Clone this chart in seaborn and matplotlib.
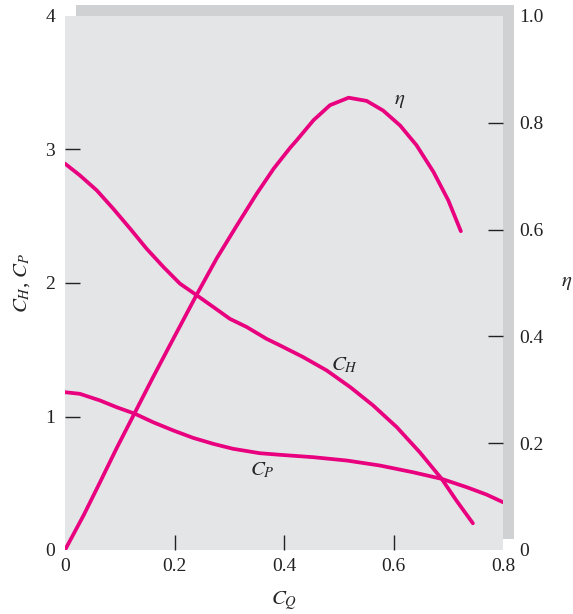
import numpy as np
import pandas as pd
import matplotlib
matplotlib.use("Agg")
import matplotlib.pyplot as plt
import seaborn as sns
from matplotlib.patches import Rectangle
from matplotlib.ticker import FixedLocator

# ------------------------------------------------------------
# Daten
# ------------------------------------------------------------
cq_h = [0.0, 0.027, 0.058, 0.088, 0.119, 0.149, 0.180, 0.210, 0.241, 0.271, 0.301,
        0.332, 0.368, 0.393, 0.435, 0.478, 0.521, 0.563, 0.606, 0.648, 0.688, 0.715, 0.745]
ch = [2.894, 2.807, 2.694, 2.557, 2.407, 2.257, 2.119, 1.995, 1.907, 1.82, 1.732,
      1.67, 1.582, 1.532, 1.445, 1.345, 1.22, 1.082, 0.92, 0.732, 0.533, 0.37, 0.20]

cq_p = [0.0, 0.027, 0.064, 0.094, 0.128, 0.161, 0.198, 0.234, 0.271, 0.307, 0.356,
        0.393, 0.454, 0.515, 0.575, 0.636, 0.688, 0.734, 0.770, 0.800]
cp = [1.182, 1.17, 1.12, 1.07, 1.02, 0.957, 0.895, 0.84, 0.795, 0.758, 0.725,
      0.713, 0.695, 0.67, 0.633, 0.582, 0.533, 0.47, 0.415, 0.358]

cq_eta = [0.0, 0.034, 0.064, 0.094, 0.128, 0.161, 0.198, 0.241, 0.277, 0.314, 0.350,
          0.381, 0.411, 0.423, 0.454, 0.484, 0.518, 0.551, 0.581, 0.612, 0.642, 0.673,
          0.700, 0.723]
eta = [0.0, 0.065, 0.127, 0.19, 0.258, 0.324, 0.396, 0.479, 0.546, 0.608, 0.667,
       0.714, 0.753, 0.767, 0.805, 0.833, 0.847, 0.841, 0.823, 0.795, 0.758, 0.708,
       0.655, 0.597]

x_ticks = [0, 0.2, 0.4, 0.6, 0.8]
x_labels = ["0", "0.2", "0.4", "0.6", "0.8"]
left_ticks = [0, 1, 2, 3, 4]
right_ticks = [0, 0.2, 0.4, 0.6, 0.8, 1.0]
right_labels = ["0", "0.2", "0.4", "0.6", "0.8", "1.0"]

magenta = "#e8007f"
bg = "#e4e5e7"
shadow = "#d0d1d3"
ink = "#222222"

sns.set_style("white", {"axes.facecolor": bg})
plt.rcParams["font.family"] = ["Liberation Serif", "DejaVu Serif"]
plt.rcParams["mathtext.fontset"] = "stix"

W, H = 573, 614
fig = plt.figure(figsize=(W / 100, H / 100), dpi=100)

# Schatten hinter der Achsenfläche (oben rechts versetzt)
fig.patches.append(Rectangle((76 / W, 1 - 539 / H), (514 - 76) / W, (539 - 5) / H,
                             transform=fig.transFigure, facecolor=shadow,
                             edgecolor="none", zorder=-1))

ax = fig.add_axes([65 / W, 1 - 550 / H, (503 - 65) / W, (550 - 16) / H])
ax2 = ax.twinx()

line_kw = dict(color=magenta, lw=2.7, sort=False, solid_joinstyle="round")
sns.lineplot(x=cq_h, y=ch, ax=ax, **line_kw)
sns.lineplot(x=cq_p, y=cp, ax=ax, **line_kw)
sns.lineplot(x=cq_eta, y=eta, ax=ax2, **line_kw)

ax.set_xlim(0, 0.8)
ax.set_ylim(0, 4)
ax2.set_ylim(0, 1.0)

for a in (ax, ax2):
    for s in a.spines.values():
        s.set_visible(False)

ax.set_xticks(x_ticks, x_labels)
ax.set_yticks(left_ticks, [str(t) for t in left_ticks])
ax2.set_yticks(right_ticks, right_labels)

ax.tick_params(axis="x", which="major", length=0, pad=6, labelsize=14, colors=ink)
ax.tick_params(axis="y", which="major", length=0, pad=7, labelsize=14, colors=ink)
ax2.tick_params(axis="y", which="major", length=0, pad=12, labelsize=14, colors=ink)

# innenliegende Striche nur an den inneren Positionen
# (Minor-Ticks dürfen auf Major-Positionen liegen)
for axis in (ax.xaxis, ax.yaxis, ax2.yaxis):
    axis.remove_overlapping_locs = False
ax.xaxis.set_minor_locator(FixedLocator(x_ticks[1:-1]))
ax.yaxis.set_minor_locator(FixedLocator(left_ticks[1:-1]))
ax2.yaxis.set_minor_locator(FixedLocator(right_ticks[1:-1]))
ax.tick_params(axis="both", which="minor", direction="in", length=11, width=1,
               color=ink, bottom=True, left=True, top=False, right=False)
ax2.tick_params(axis="y", which="minor", direction="in", length=11, width=1,
                color=ink, right=True, left=False)

ax.set_xlabel("$C_Q$", fontsize=15, labelpad=10)
ax.set_ylabel("$C_H$, $C_P$", fontsize=15, labelpad=10)
ax2.set_ylabel("$\\eta$", fontsize=15, rotation=0, labelpad=16, va="center")

ax.text(0.612, 3.37, "$\\eta$", fontsize=15, ha="center", va="center")
ax.text(0.511, 1.38, "$C_H$", fontsize=15, ha="center", va="center")
ax.text(0.36, 0.595, "$C_P$", fontsize=15, ha="center", va="center")

fig.savefig("out.png", dpi=100)
